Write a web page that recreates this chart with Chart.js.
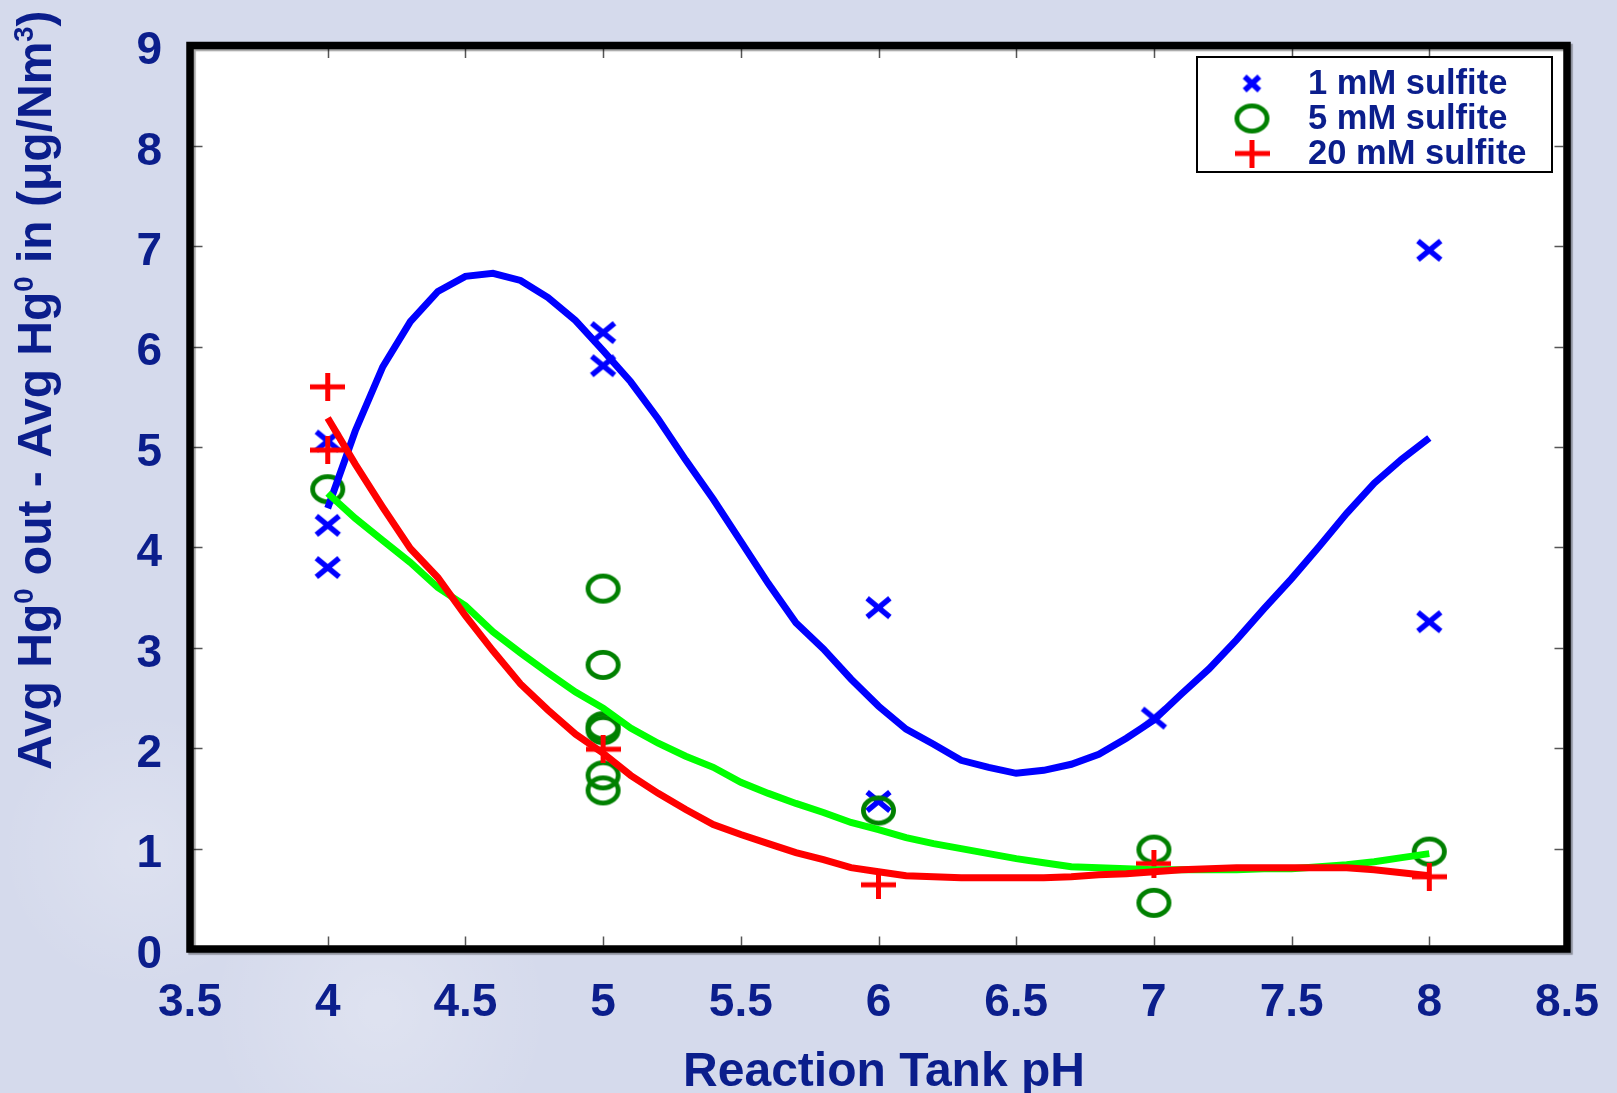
<!DOCTYPE html>
<html>
<head>
<meta charset="utf-8">
<script src="https://cdn.jsdelivr.net/npm/chart.js@4.4.1/dist/chart.umd.min.js"></script>
<style>
  html, body { margin: 0; padding: 0; background: #d5daec; }
  canvas { display: block; }
</style>
</head>
<body>
<canvas id="c" width="1617" height="1093"></canvas>
<script>
// Series names (legend order)
const seriesNames = ['1 mM sulfite', '5 mM sulfite', '20 mM sulfite'];

// Measured points: reaction tank pH and Hg0 difference (µg/Nm3)
const ph1  = [4, 4, 4, 5, 5, 6, 6, 7, 8, 8];
const val1 = [3.80, 4.22, 5.06, 6.14, 5.81, 3.40, 1.47, 2.30, 6.96, 3.26];

const ph5  = [4, 5, 5, 5, 5, 5, 5, 6, 7, 7, 8];
const val5 = [4.58, 3.59, 2.83, 2.22, 2.18, 1.73, 1.58, 1.38, 0.99, 0.46, 0.97];

const ph20  = [4, 4, 5, 6, 7, 8];
const val20 = [5.60, 4.97, 1.99, 0.64, 0.85, 0.72];

// Fitted trend curves, one value per 0.1 pH step
const fitPH = [4.0, 4.1, 4.2, 4.3, 4.4, 4.5, 4.6, 4.7, 4.8, 4.9,
               5.0, 5.1, 5.2, 5.3, 5.4, 5.5, 5.6, 5.7, 5.8, 5.9,
               6.0, 6.1, 6.2, 6.3, 6.4, 6.5, 6.6, 6.7, 6.8, 6.9,
               7.0, 7.1, 7.2, 7.3, 7.4, 7.5, 7.6, 7.7, 7.8, 7.9, 8.0];
const fit1 = [4.39, 5.16, 5.80, 6.25, 6.55, 6.70, 6.73, 6.66, 6.49, 6.26,
              5.96, 5.65, 5.28, 4.87, 4.48, 4.06, 3.64, 3.25, 2.99, 2.69,
              2.42, 2.19, 2.04, 1.88, 1.81, 1.75, 1.78, 1.84, 1.94, 2.10,
              2.28, 2.54, 2.79, 3.08, 3.39, 3.69, 4.01, 4.34, 4.64, 4.88, 5.09];
const fit5 = [4.54, 4.29, 4.07, 3.85, 3.60, 3.42, 3.16, 2.95, 2.75, 2.56,
              2.40, 2.20, 2.05, 1.92, 1.81, 1.66, 1.55, 1.45, 1.36, 1.26,
              1.19, 1.11, 1.05, 1.00, 0.95, 0.90, 0.86, 0.82, 0.81, 0.80,
              0.79, 0.79, 0.79, 0.79, 0.80, 0.80, 0.82, 0.84, 0.87, 0.91, 0.95];
const fit20 = [5.29, 4.83, 4.40, 3.99, 3.70, 3.32, 2.97, 2.64, 2.38, 2.14,
               1.95, 1.73, 1.55, 1.39, 1.24, 1.14, 1.05, 0.96, 0.89, 0.81,
               0.77, 0.73, 0.72, 0.71, 0.71, 0.71, 0.71, 0.72, 0.74, 0.75,
               0.77, 0.79, 0.80, 0.81, 0.81, 0.81, 0.81, 0.81, 0.79, 0.76, 0.73];

// Axis tick labels and titles
const xTickLabels = ['3.5', '4', '4.5', '5', '5.5', '6', '6.5', '7', '7.5', '8', '8.5'];
const yTickLabels = ['0', '1', '2', '3', '4', '5', '6', '7', '8', '9'];
const xTitle = 'Reaction Tank pH';
// [text, isSuperscript]
const yTitleParts = [['Avg Hg', false], ['0', true], [' out - Avg Hg', false], ['0', true],
                     [' in (\u03bcg/Nm', false], ['3', true], [')', false]];

const NAVY = '#0b1e8c';
const FONT = "'Liberation Sans', Arial, Helvetica, sans-serif";

// Fixed plot frame on the 1617 x 1093 canvas
const AREA = { left: 190, top: 45.5, right: 1567, bottom: 949 };

function pts(xs, ys) { return xs.map((x, i) => ({ x: x, y: ys[i] })); }

// Marker glyphs drawn onto small canvases (slightly wider than tall)
function makeCross(color, w, h, lw) {
  const c = document.createElement('canvas');
  c.width = w; c.height = h;
  const g = c.getContext('2d');
  g.strokeStyle = color; g.lineWidth = lw; g.lineCap = 'butt';
  const m = lw * 0.75;
  g.beginPath();
  g.moveTo(m, m); g.lineTo(w - m, h - m);
  g.moveTo(w - m, m); g.lineTo(m, h - m);
  g.stroke();
  return c;
}
function makeRing(color, w, h, lw) {
  const c = document.createElement('canvas');
  c.width = w; c.height = h;
  const g = c.getContext('2d');
  g.strokeStyle = color; g.lineWidth = lw;
  g.beginPath();
  g.ellipse(w / 2, h / 2, w / 2 - lw / 2 - 1, h / 2 - lw / 2 - 1, 0, 0, Math.PI * 2);
  g.stroke();
  return c;
}
function makePlus(color, w, h, lw) {
  const c = document.createElement('canvas');
  c.width = w; c.height = h;
  const g = c.getContext('2d');
  g.fillStyle = color;
  g.fillRect(0, h / 2 - lw / 2, w, lw);
  g.fillRect(w / 2 - lw / 2, 0, lw, h);
  return c;
}

const crossImg = makeCross('#0000ff', 31, 27, 5.5);
const ringImg  = makeRing('#008000', 37, 32, 4.8);
const plusImg  = makePlus('#ff0000', 35, 28, 5);
const legendCross = makeCross('#0000ff', 23, 22, 5.5);
const legendMarkers = [legendCross, ringImg, plusImg];

const decor = {
  id: 'decor',
  afterLayout(chart) {
    // pin the plot frame and both scales to the fixed rectangle
    const sx = chart.scales.x, sy = chart.scales.y;
    sx.left = AREA.left; sx.right = AREA.right; sx.width = AREA.right - AREA.left;
    sx.top = AREA.bottom; sx.bottom = chart.height; sx.height = chart.height - AREA.bottom;
    sy.left = 0; sy.right = AREA.left; sy.width = AREA.left;
    sy.top = AREA.top; sy.bottom = AREA.bottom; sy.height = AREA.bottom - AREA.top;
    chart.chartArea = {
      left: AREA.left, top: AREA.top, right: AREA.right, bottom: AREA.bottom,
      width: AREA.right - AREA.left, height: AREA.bottom - AREA.top
    };
    sx.configure(); sy.configure();
  },
  beforeDraw(chart) {
    const { ctx, chartArea: a } = chart;
    ctx.save();
    ctx.fillStyle = '#d5daec';
    ctx.fillRect(0, 0, chart.width, chart.height);
    // faint light patches in the backdrop
    let g = ctx.createRadialGradient(380, 1010, 10, 380, 1010, 170);
    g.addColorStop(0, 'rgba(255,255,255,0.22)');
    g.addColorStop(1, 'rgba(255,255,255,0)');
    ctx.fillStyle = g; ctx.fillRect(0, 0, chart.width, chart.height);
    g = ctx.createRadialGradient(140, 850, 10, 140, 850, 140);
    g.addColorStop(0, 'rgba(255,255,255,0.18)');
    g.addColorStop(1, 'rgba(255,255,255,0)');
    ctx.fillStyle = g; ctx.fillRect(0, 0, chart.width, chart.height);
    // plot area
    ctx.fillStyle = '#ffffff';
    ctx.fillRect(a.left, a.top, a.right - a.left, a.bottom - a.top);
    ctx.restore();
  },
  afterDraw(chart) {
    const { ctx, chartArea: a, scales } = chart;
    ctx.save();
    // inward tick marks on all four sides
    ctx.strokeStyle = '#555555';
    ctx.lineWidth = 1.5;
    const inset = 3.5, len = 9;
    ctx.beginPath();
    scales.x.ticks.forEach((t, i, arr) => {
      if (i === 0 || i === arr.length - 1) return;
      const px = Math.round(scales.x.getPixelForValue(t.value)) + 0.5;
      ctx.moveTo(px, a.bottom - inset); ctx.lineTo(px, a.bottom - inset - len);
      ctx.moveTo(px, a.top + inset);    ctx.lineTo(px, a.top + inset + len);
    });
    scales.y.ticks.forEach((t, i, arr) => {
      if (i === 0 || i === arr.length - 1) return;
      const py = Math.round(scales.y.getPixelForValue(t.value)) + 0.5;
      ctx.moveTo(a.left + inset, py);  ctx.lineTo(a.left + inset + len, py);
      ctx.moveTo(a.right - inset, py); ctx.lineTo(a.right - inset - len, py);
    });
    ctx.stroke();

    // heavy frame with a light drop shadow
    ctx.shadowColor = 'rgba(0,0,0,0.35)';
    ctx.shadowOffsetX = 2; ctx.shadowOffsetY = 2; ctx.shadowBlur = 1;
    ctx.strokeStyle = '#000000';
    ctx.lineWidth = 7.5;
    ctx.strokeRect(a.left, a.top, a.right - a.left, a.bottom - a.top);
    ctx.shadowColor = 'transparent';

    // x-axis title
    ctx.fillStyle = NAVY;
    ctx.font = `bold 48px ${FONT}`;
    ctx.textAlign = 'center';
    ctx.textBaseline = 'alphabetic';
    ctx.fillText(xTitle, 884, 1086);

    // y-axis title with superscripts
    ctx.translate(51, 770);
    ctx.rotate(-Math.PI / 2);
    ctx.textAlign = 'left';
    let x = 0;
    yTitleParts.forEach(([txt, sup]) => {
      ctx.font = sup ? `bold 27.5px ${FONT}` : `bold 48px ${FONT}`;
      ctx.fillText(txt, x, sup ? -18 : 0);
      x += ctx.measureText(txt).width;
    });
    ctx.setTransform(1, 0, 0, 1, 0, 0);

    // legend box
    const bx = 1197, by = 57, bw = 355, bh = 115;
    ctx.fillStyle = '#ffffff';
    ctx.fillRect(bx, by, bw, bh);
    ctx.strokeStyle = '#000000';
    ctx.lineWidth = 2;
    ctx.strokeRect(bx, by, bw, bh);
    ctx.font = `bold 34.5px ${FONT}`;
    ctx.textBaseline = 'middle';
    ctx.fillStyle = NAVY;
    seriesNames.forEach((name, i) => {
      const cy = 83.5 + i * 35;
      const img = legendMarkers[i];
      ctx.drawImage(img, 1252 - img.width / 2, cy - img.height / 2);
      ctx.fillText(name, 1308, cy + 1);
    });
    ctx.restore();
  }
};

const tickFont = { family: FONT, size: 46, weight: 'bold' };

new Chart(document.getElementById('c'), {
  type: 'scatter',
  data: {
    datasets: [
      { label: seriesNames[0], data: pts(ph1, val1), pointStyle: crossImg, pointRadius: 12, order: 6 },
      { label: seriesNames[1], data: pts(ph5, val5), pointStyle: ringImg, pointRadius: 12, order: 5 },
      { label: seriesNames[2], data: pts(ph20, val20), pointStyle: plusImg, pointRadius: 12, order: 4 },
      { label: seriesNames[0] + ' fit', data: pts(fitPH, fit1), showLine: true, pointRadius: 0,
        borderColor: '#0000ff', borderWidth: 7, tension: 0, order: 3 },
      { label: seriesNames[1] + ' fit', data: pts(fitPH, fit5), showLine: true, pointRadius: 0,
        borderColor: '#00ff00', borderWidth: 7, tension: 0, order: 2 },
      { label: seriesNames[2] + ' fit', data: pts(fitPH, fit20), showLine: true, pointRadius: 0,
        borderColor: '#ff0000', borderWidth: 7, tension: 0, order: 1 }
    ]
  },
  options: {
    responsive: false,
    animation: false,
    devicePixelRatio: 1,
    layout: { padding: { left: 0, right: 50, top: 45, bottom: 0 }, autoPadding: false },
    plugins: { legend: { display: false }, tooltip: { enabled: false } },
    scales: {
      x: {
        type: 'linear', min: 3.5, max: 8.5,
        afterFit(s) { s.height = 144; },
        ticks: {
          stepSize: 0.5, autoSkip: false, maxRotation: 0, padding: 27,
          color: NAVY, font: tickFont,
          callback: (v, i) => xTickLabels[i]
        },
        grid: { display: false, drawTicks: false },
        border: { display: false }
      },
      y: {
        type: 'linear', min: 0, max: 9,
        afterFit(s) { s.width = 190; },
        ticks: {
          stepSize: 1, autoSkip: false, padding: 28, labelOffset: 6,
          color: NAVY, font: tickFont,
          callback: (v, i) => yTickLabels[i]
        },
        grid: { display: false, drawTicks: false },
        border: { display: false }
      }
    }
  },
  plugins: [decor]
});
</script>
</body>
</html>
